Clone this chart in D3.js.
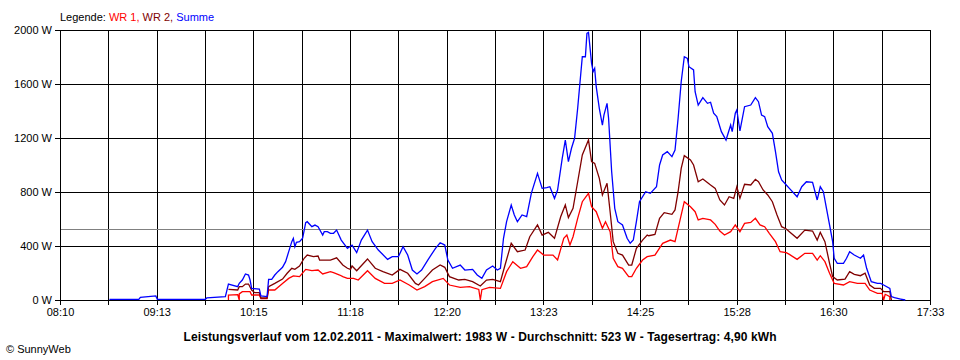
<!DOCTYPE html>
<html>
<head>
<meta charset="utf-8">
<script src="https://cdnjs.cloudflare.com/ajax/libs/d3/7.8.5/d3.min.js"></script>
<style>
body { margin: 0; background: #fff; }
svg text { font-family: "Liberation Sans", Arial, sans-serif; font-size: 11px; }
</style>
</head>
<body>
<svg id="svg" width="960" height="360"></svg>
<script>
var timeLabels = ['08:10', '09:13', '10:15', '11:18', '12:20', '13:23', '14:25', '15:28', '16:30', '17:33']
var powerTicks = [0, 400, 800, 1200, 1600, 2000]
var average = 523

// WR 1 (rot)
var wr1 = [
    ['09:59', 0], ['09:59', 37], ['10:05', 40], ['10:06', 0], ['10:06', 45], ['10:08', 62], ['10:13', 62],
    ['10:14', 37], ['10:19', 37], ['10:20', 10], ['10:24', 10], ['10:25', 74], ['10:29', 74], ['10:34', 123],
    ['10:38', 160], ['10:41', 178], ['10:45', 173], ['10:49', 227], ['10:53', 217], ['10:57', 222],
    ['11:00', 193], ['11:05', 210], ['11:07', 202], ['11:11', 185], ['11:13', 173], ['11:16', 160],
    ['11:20', 160], ['11:23', 148], ['11:29', 217], ['11:34', 160], ['11:40', 123], ['11:45', 123],
    ['11:50', 148], ['11:56', 111], ['12:01', 74], ['12:06', 99], ['12:11', 136], ['12:18', 160],
    ['12:22', 111], ['12:29', 94], ['12:35', 99], ['12:41', 78], ['12:42', 0], ['12:43', 76], ['12:48', 94],
    ['12:55', 86], ['12:59', 210], ['13:03', 284], ['13:08', 235], ['13:12', 247], ['13:16', 321],
    ['13:19', 370], ['13:23', 333], ['13:29', 333], ['13:32', 296], ['13:36', 457], ['13:38', 481],
    ['13:40', 407], ['13:42', 469], ['13:45', 605], ['13:48', 728], ['13:52', 790], ['13:54', 691],
    ['13:57', 654], ['14:01', 531], ['14:03', 580], ['14:06', 506], ['14:08', 309], ['14:11', 247],
    ['14:14', 235], ['14:18', 173], ['14:20', 173], ['14:23', 235], ['14:27', 296], ['14:30', 321],
    ['14:35', 333], ['14:40', 420], ['14:45', 444], ['14:48', 432], ['14:51', 580], ['14:54', 728],
    ['14:58', 691], ['15:01', 654], ['15:03', 593], ['15:06', 605], ['15:11', 593], ['15:14', 560],
    ['15:17', 511], ['15:20', 481], ['15:24', 506], ['15:27', 556], ['15:30', 506], ['15:33', 568],
    ['15:37', 575], ['15:40', 605], ['15:43', 556], ['15:46', 543], ['15:49', 494], ['15:53', 432],
    ['15:56', 358], ['16:00', 351], ['16:02', 338], ['16:07', 301], ['16:12', 346], ['16:17', 346],
    ['16:20', 296], ['16:22', 328], ['16:25', 284], ['16:28', 198], ['16:31', 123], ['16:37', 111],
    ['16:41', 136], ['16:46', 123], ['16:51', 123], ['16:54', 74], ['16:59', 49], ['17:02', 49],
    ['17:03', 0], ['17:04', 42], ['17:05', 37], ['17:07', 25], ['17:07', 0]
]

// WR 2 (dunkelrot)
var wr2 = [
    ['09:59', 79], ['10:05', 74], ['10:06', 99], ['10:08', 99], ['10:10', 118], ['10:12', 118], ['10:14', 74],
    ['10:16', 54], ['10:19', 54], ['10:20', 15], ['10:24', 15], ['10:25', 99], ['10:29', 123], ['10:34', 155],
    ['10:37', 198], ['10:40', 235], ['10:42', 227], ['10:45', 252], ['10:48', 309], ['10:50', 333],
    ['10:54', 321], ['10:57', 326], ['10:58', 296], ['11:05', 296], ['11:09', 312], ['11:13', 259],
    ['11:16', 235], ['11:18', 227], ['11:19', 252], ['11:22', 217], ['11:29', 304], ['11:34', 235],
    ['11:39', 210], ['11:45', 185], ['11:50', 227], ['11:55', 198], ['12:00', 123], ['12:02', 111],
    ['12:06', 160], ['12:11', 222], ['12:16', 259], ['12:19', 242], ['12:22', 173], ['12:28', 148],
    ['12:32', 153], ['12:37', 136], ['12:42', 104], ['12:46', 148], ['12:50', 153], ['12:55', 136],
    ['12:58', 259], ['13:02', 420], ['13:06', 358], ['13:11', 370], ['13:14', 469], ['13:19', 556],
    ['13:22', 481], ['13:26', 501], ['13:30', 457], ['13:34', 617], ['13:37', 704], ['13:39', 610],
    ['13:42', 679], ['13:45', 876], ['13:48', 1074], ['13:52', 1185], ['13:54', 1025], ['13:56', 1012],
    ['13:59', 901], ['14:01', 778], ['14:04', 864], ['14:06', 654], ['14:08', 432], ['14:11', 346],
    ['14:14', 333], ['14:18', 259], ['14:20', 259], ['14:23', 383], ['14:27', 444], ['14:30', 481],
    ['14:31', 476], ['14:35', 486], ['14:38', 605], ['14:41', 647], ['14:46', 635], ['14:48', 667],
    ['14:50', 802], ['14:52', 975], ['14:54', 1069], ['14:58', 1037], ['15:00', 1000], ['15:03', 876],
    ['15:06', 896], ['15:11', 852], ['15:14', 827], ['15:17', 741], ['15:20', 704], ['15:23', 765],
    ['15:26', 753], ['15:28', 839], ['15:30', 753], ['15:33', 857], ['15:37', 852], ['15:40', 894],
    ['15:42', 876], ['15:45', 815], ['15:48', 778], ['15:51', 728], ['15:54', 630], ['15:57', 543],
    ['16:00', 526], ['16:02', 506], ['16:07', 457], ['16:12', 518], ['16:17', 511], ['16:20', 444],
    ['16:22', 501], ['16:25', 432], ['16:28', 272], ['16:30', 173], ['16:33', 148], ['16:38', 155],
    ['16:41', 210], ['16:44', 190], ['16:48', 180], ['16:51', 198], ['16:54', 111], ['16:57', 86],
    ['17:01', 86], ['17:03', 62], ['17:07', 62], ['17:08', 0]
]

// Summe (blau)
var summe = [
    ['08:42', 5], ['09:01', 5], ['09:02', 20], ['09:12', 30], ['09:13', 5], ['09:44', 5], ['09:45', 15],
    ['09:57', 25], ['09:59', 118], ['10:05', 99], ['10:06', 124], ['10:08', 148], ['10:10', 193],
    ['10:12', 185], ['10:13', 148], ['10:14', 86], ['10:19', 80], ['10:20', 30], ['10:24', 25],
    ['10:25', 153], ['10:27', 153], ['10:29', 185], ['10:31', 210], ['10:34', 242], ['10:36', 284],
    ['10:38', 358], ['10:40', 432], ['10:41', 457], ['10:42', 395], ['10:43', 427], ['10:45', 432],
    ['10:47', 457], ['10:49', 573], ['10:50', 580], ['10:53', 543], ['10:55', 555], ['10:57', 543],
    ['11:00', 481], ['11:01', 506], ['11:03', 506], ['11:05', 494], ['11:07', 494], ['11:09', 518],
    ['11:12', 444], ['11:16', 383], ['11:19', 407], ['11:22', 351], ['11:25', 444], ['11:29', 518],
    ['11:32', 432], ['11:36', 370], ['11:42', 301], ['11:45', 321], ['11:49', 321], ['11:52', 395],
    ['11:55', 333], ['11:58', 222], ['12:01', 193], ['12:04', 222], ['12:08', 296], ['12:13', 383],
    ['12:16', 424], ['12:19', 407], ['12:21', 296], ['12:24', 235], ['12:29', 259], ['12:32', 222],
    ['12:37', 227], ['12:40', 185], ['12:43', 160], ['12:46', 222], ['12:50', 252], ['12:53', 222],
    ['12:55', 235], ['12:57', 457], ['12:59', 580], ['13:02', 704], ['13:04', 630], ['13:06', 580],
    ['13:09', 630], ['13:12', 617], ['13:15', 790], ['13:19', 938], ['13:22', 827], ['13:25', 832],
    ['13:27', 839], ['13:30', 753], ['13:32', 815], ['13:35', 1049], ['13:37', 1185], ['13:39', 1025],
    ['13:41', 1124], ['13:43', 1198], ['13:45', 1420], ['13:48', 1802], ['13:50', 1802], ['13:51', 1975],
    ['13:52', 1983], ['13:54', 1753], ['13:55', 1691], ['13:56', 1716], ['13:57', 1580], ['13:59', 1420],
    ['14:01', 1296], ['14:02', 1370], ['14:04', 1457], ['14:05', 1346], ['14:07', 950], ['14:09', 679],
    ['14:11', 580], ['14:14', 556], ['14:17', 457], ['14:19', 420], ['14:21', 444], ['14:23', 580],
    ['14:25', 728], ['14:29', 802], ['14:32', 790], ['14:36', 839], ['14:38', 1000], ['14:40', 1074],
    ['14:43', 1099], ['14:46', 1062], ['14:48', 1111], ['14:50', 1346], ['14:52', 1617], ['14:54', 1802],
    ['14:56', 1790], ['14:57', 1728], ['15:00', 1704], ['15:01', 1543], ['15:03', 1444], ['15:06', 1499],
    ['15:09', 1457], ['15:11', 1465], ['15:13', 1383], ['15:15', 1358], ['15:18', 1247], ['15:21', 1185],
    ['15:24', 1296], ['15:25', 1247], ['15:27', 1383], ['15:28', 1407], ['15:30', 1252], ['15:33', 1432],
    ['15:37', 1444], ['15:40', 1499], ['15:42', 1469], ['15:44', 1370], ['15:46', 1358], ['15:48', 1284],
    ['15:51', 1235], ['15:53', 1099], ['15:55', 950], ['15:57', 889], ['16:00', 852], ['16:02', 827],
    ['16:07', 765], ['16:10', 839], ['16:13', 876], ['16:17', 872], ['16:20', 741], ['16:22', 839],
    ['16:24', 802], ['16:26', 679], ['16:28', 556], ['16:30', 432], ['16:31', 309], ['16:33', 272],
    ['16:37', 272], ['16:39', 309], ['16:41', 358], ['16:44', 333], ['16:48', 309], ['16:50', 333],
    ['16:52', 235], ['16:55', 136], ['16:59', 123], ['17:01', 123], ['17:03', 111], ['17:07', 86],
    ['17:08', 25], ['17:10', 17], ['17:14', 7], ['17:17', 0]
]

var caption = 'Leistungsverlauf vom 12.02.2011 - Maximalwert: 1983 W - Durchschnitt: 523 W - Tagesertrag: 4,90 kWh'

function toMin(s) {
    var p = s.split(':')
    return +p[0] * 60 + +p[1]
}

var svg = d3.select('#svg')

var start = toMin(timeLabels[0]),
    end = toMin(timeLabels[timeLabels.length - 1])

var x = d3.scaleLinear().domain([start, end]).range([60, 930])
var y = d3.scaleLinear().domain([0, 2000]).range([300, 30])

// 18 Intervalle, jede zweite Linie beschriftet
var xTicks = d3.range(19).map(function(i) {
    return start + i * (end - start) / 18
})

svg.append('rect').attr('width', 960).attr('height', 360).style('fill', '#fff')

var grid = svg.append('g').style('shape-rendering', 'crispEdges')

grid.selectAll('.hgrid').data(powerTicks).enter().append('line')
    .attr('class', 'hgrid')
    .attr('x1', 60).attr('x2', 931)
    .attr('y1', function(d) { return Math.round(y(d)) + 0.5 })
    .attr('y2', function(d) { return Math.round(y(d)) + 0.5 })
    .style('stroke', '#000')

grid.selectAll('.vgrid').data(xTicks).enter().append('line')
    .attr('class', 'vgrid')
    .attr('y1', 30).attr('y2', 301)
    .attr('x1', function(d) { return Math.round(x(d)) + 0.5 })
    .attr('x2', function(d) { return Math.round(x(d)) + 0.5 })
    .style('stroke', '#000')

grid.append('line')
    .attr('x1', 61).attr('x2', 930)
    .attr('y1', Math.round(y(average)) + 0.5)
    .attr('y2', Math.round(y(average)) + 0.5)
    .style('stroke', '#808080')

var yAxis = d3.axisLeft(y).tickValues(powerTicks).tickSize(5).tickSizeOuter(0)
    .tickFormat(function(d) { return d + ' W' })

var xAxis = d3.axisBottom(x).tickValues(xTicks).tickSize(5).tickSizeOuter(0)
    .tickFormat(function(d, i) { return i % 2 ? '' : timeLabels[i / 2] })

svg.append('g').attr('transform', 'translate(0,' + 300 + ')').call(xAxis)
svg.append('g').attr('transform', 'translate(' + 60 + ',0)').call(yAxis)

svg.selectAll('.tick line, .domain').style('stroke', '#000').style('shape-rendering', 'crispEdges')
svg.selectAll('.tick text').style('fill', '#000')
    .style('font-family', '"Liberation Sans", Arial, sans-serif').style('font-size', '11px')

var line = d3.line()
    .x(function(d) { return x(toMin(d[0])) })
    .y(function(d) { return y(d[1]) })

var series = [
    { data: wr1, color: '#ff0000' },
    { data: wr2, color: '#800000' },
    { data: summe, color: '#0000ff' }
]

series.forEach(function(s) {
    svg.append('path')
        .datum(s.data)
        .attr('d', line)
        .style('fill', 'none')
        .style('stroke', s.color)
        .style('stroke-width', 1.3)
})

var legend = svg.append('text').attr('x', 60).attr('y', 21)
legend.append('tspan').text('Legende: ').style('fill', '#000')
legend.append('tspan').text('WR 1, ').style('fill', '#ff0000')
legend.append('tspan').text('WR 2, ').style('fill', '#800000')
legend.append('tspan').text('Summe').style('fill', '#0000ff')

// Unterschrift etwas breiter als die Schrift von sich aus
svg.append('text')
    .attr('x', 480).attr('y', 341)
    .attr('text-anchor', 'middle')
    .attr('textLength', 593)
    .attr('lengthAdjust', 'spacing')
    .style('font-weight', 'bold')
    .style('font-size', '12px')
    .text(caption)

svg.append('text')
    .attr('x', 6).attr('y', 353)
    .text('\u00a9 SunnyWeb')
</script>
</body>
</html>
